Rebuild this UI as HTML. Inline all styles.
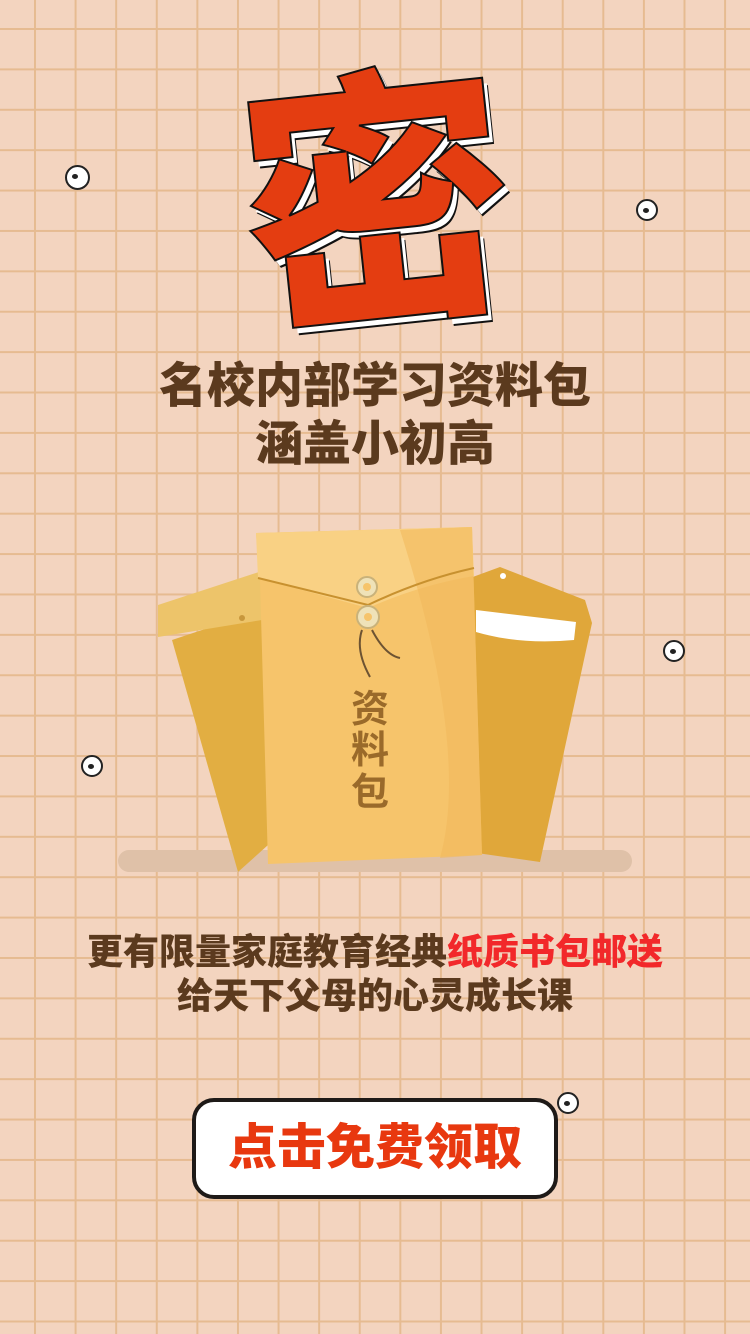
<!DOCTYPE html>
<html><head><meta charset="utf-8">
<style>
html,body{margin:0;padding:0}
body{width:750px;height:1334px;position:relative;overflow:hidden;background:#f3d4bf;font-family:"Liberation Sans","Noto Sans CJK SC",sans-serif}
.abs{position:absolute}
.grid{left:0;top:0;width:750px;height:1334px;
background-image:linear-gradient(to right,#e6bb91 2px,transparent 2px),linear-gradient(to bottom,#e6bb91 2px,transparent 2px);
background-size:40.6px 40.4px;background-position:34px 28px}
.title{left:0;width:750px;text-align:center;color:#5b3a1e;font-weight:900;font-size:48px;line-height:58px}
.sub{left:0;width:750px;text-align:center;color:#5b3a1e;font-weight:900;font-size:36px;line-height:44px}
.eye{width:22px;height:22px;border:2px solid #222;border-radius:50%;background:#fff;box-sizing:border-box}
.eye::after{content:"";position:absolute;width:6px;height:5px;border-radius:50%;background:#222;left:5px;top:7px}
</style></head>
<body>
<div class="abs grid"></div>

<div class="abs eye" style="left:65px;top:165px;width:25px;height:25px"></div>
<div class="abs eye" style="left:636px;top:199px"></div>
<div class="abs eye" style="left:663px;top:640px"></div>
<div class="abs eye" style="left:81px;top:755px"></div>
<div class="abs eye" style="left:557px;top:1092px"></div>

<div class="abs" style="left:225px;top:40px;width:300px;height:290px;text-align:center;font-family:'Noto Sans CJK SC',sans-serif;font-weight:900;font-size:270px;line-height:290px;color:#e43d11;-webkit-text-stroke:2px #111;text-shadow:4px 6px 0 #fff,5px 8px 0 #111;transform:rotate(-6deg)">密</div>

<div class="abs title" style="top:358px">名校内部学习资料包<br>涵盖小初高</div>

<svg class="abs" style="left:0;top:500px" width="750" height="390">
<rect x="118" y="350" width="514" height="22" rx="11" fill="#dfc1a8"/>
<g>
<path d="M172 140 L262 110 L268 345 L238 372 Z" fill="#e2ae42"/>
<path d="M158 105 L265 70 L262 120 L158 137 Z" fill="#edc46a"/>
<circle cx="242" cy="118" r="3" fill="#c8973c"/>
</g>
<g>
<path d="M470 78 L500 67 L585 100 L592 123 L540 362 L470 352 Z" fill="#e0a73a"/>
<path d="M476 110 L576 122 L574 140 Q520 145 476 132 Z" fill="#fff"/>
<circle cx="503" cy="76" r="3" fill="#fff"/>
</g>
<g>
<path d="M256 33 L472 27 L482 355 L268 364 L260 80 Z" fill="#f6c46b"/>
<path d="M256 33 L472 27 L474 76 Q420 85 368 108 L258 78 Z" fill="#f9d184"/>
<path d="M400 30 L472 27 L482 355 L440 358 Q470 250 400 30Z" fill="#f1b95c" opacity=".6"/>
<path d="M258 78 L368 105 Q420 80 474 68" fill="none" stroke="#c8912f" stroke-width="2"/>
<circle cx="367" cy="87" r="10" fill="#efe2b8" stroke="#c9b27a" stroke-width="2"/><circle cx="367" cy="87" r="4" fill="#f6c46b"/>
<circle cx="368" cy="117" r="11" fill="#efe2b8" stroke="#c9b27a" stroke-width="2"/><circle cx="368" cy="117" r="4" fill="#f6c46b"/>
<path d="M362 130 Q355 150 370 177 M372 130 Q385 155 400 158" fill="none" stroke="#6d5332" stroke-width="2"/>
<text x="370" y="222" text-anchor="middle" font-family="Noto Sans CJK SC" font-weight="700" font-size="38" fill="#9a6a2a">资</text>
<text x="370" y="263" text-anchor="middle" font-family="Noto Sans CJK SC" font-weight="700" font-size="38" fill="#9a6a2a">料</text>
<text x="370" y="305" text-anchor="middle" font-family="Noto Sans CJK SC" font-weight="700" font-size="38" fill="#9a6a2a">包</text>
</g>
</svg>

<div class="abs sub" style="top:930px">更有限量家庭教育经典<span style="color:#f2282a">纸质书包邮送</span><br>给天下父母的心灵成长课</div>

<div class="abs" style="left:192px;top:1098px;width:366px;height:101px;box-sizing:border-box;border:4px solid #1e1a18;border-radius:22px;background:#fff;text-align:center;line-height:93px;font-size:49px;font-weight:900;color:#e8380f">点击免费领取</div>
</body></html>
